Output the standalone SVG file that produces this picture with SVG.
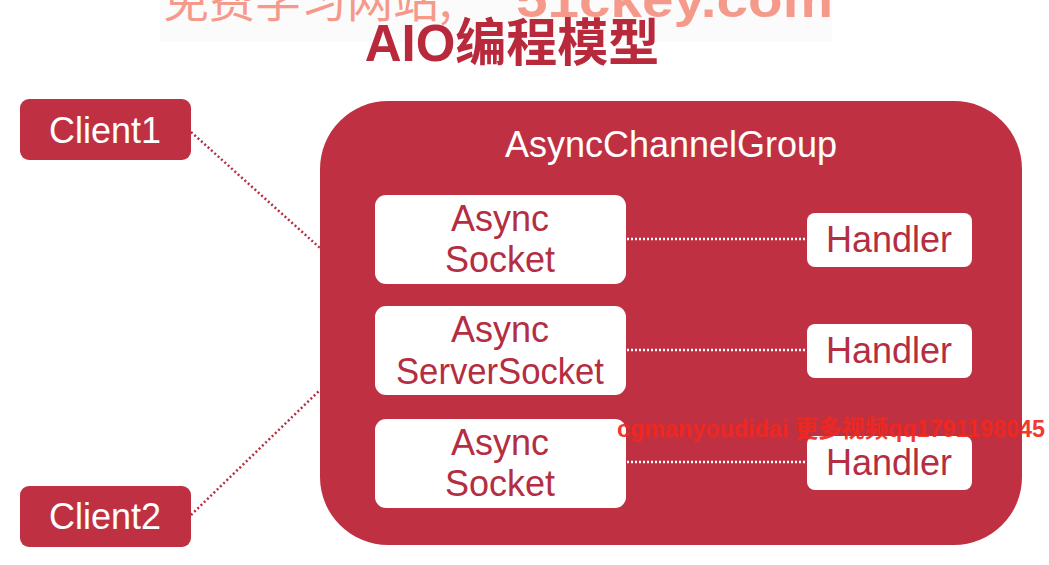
<svg xmlns="http://www.w3.org/2000/svg" width="1049" height="565" viewBox="0 0 1049 565">
<style>
.red{fill:#bf3142}
.wbox{fill:#ffffff}
.wt{fill:#ffffff;font-family:"Liberation Sans","Noto Sans CJK SC",sans-serif;font-size:36px;text-anchor:middle}
.rt{fill:#b52d40;font-family:"Liberation Sans","Noto Sans CJK SC",sans-serif;font-size:36px;text-anchor:middle}
.rdot{stroke:#b52d40;stroke-width:2.5;stroke-dasharray:2 2.5;fill:none}
.wdot{stroke:#ffffff;stroke-width:2.5;stroke-dasharray:2 2;fill:none}
</style>
<rect width="1049" height="565" fill="#ffffff"/>
<g id="watermark-top">
<rect x="160" y="0" width="672" height="42" fill="#f7f7f7" opacity="0.5"/>
<text x="163" y="17" font-family="'Noto Sans CJK SC',sans-serif" font-size="46" fill="#f58a78" opacity="0.85">免费学习网站,</text>
<text x="516" y="17" font-family="'Liberation Sans',sans-serif" font-weight="bold" font-size="50" fill="#f58a78" opacity="0.85" textLength="317" lengthAdjust="spacingAndGlyphs">51ckey.com</text>
</g>
<g id="title">
<text x="512" y="61" text-anchor="middle" font-family="'Liberation Sans','Noto Sans CJK SC',sans-serif" font-weight="bold" font-size="51" fill="#b8293c">AIO编程模型</text>
</g>
<g id="group">
<rect class="red" x="320" y="101" width="702" height="444" rx="68"/>
<text class="wt" x="671" y="157">AsyncChannelGroup</text>
</g>
<g id="connectors">
<line class="rdot" x1="191" y1="132" x2="320" y2="248"/>
<line class="rdot" x1="191" y1="515" x2="320" y2="390"/>
<line class="wdot" x1="627" y1="239" x2="807" y2="239"/>
<line class="wdot" x1="627" y1="350" x2="807" y2="350"/>
<line class="wdot" x1="627" y1="462" x2="807" y2="462"/>
</g>
<g id="client1">
<rect class="red" x="20" y="99" width="171" height="61" rx="9"/>
<text class="wt" x="105" y="143">Client1</text>
</g>
<g id="client2">
<rect class="red" x="20" y="486" width="171" height="61" rx="9"/>
<text class="wt" x="105" y="529">Client2</text>
</g>
<g id="socket1">
<rect class="wbox" x="375" y="195" width="251" height="89" rx="11"/>
<text class="rt" x="500" y="231">Async</text>
<text class="rt" x="500" y="272">Socket</text>
</g>
<g id="serversocket">
<rect class="wbox" x="375" y="306" width="251" height="89" rx="11"/>
<text class="rt" x="500" y="342">Async</text>
<text class="rt" x="500" y="384" textLength="208" lengthAdjust="spacingAndGlyphs">ServerSocket</text>
</g>
<g id="socket2">
<rect class="wbox" x="375" y="419" width="251" height="89" rx="11"/>
<text class="rt" x="500" y="455">Async</text>
<text class="rt" x="500" y="496">Socket</text>
</g>
<g id="handler1">
<rect class="wbox" x="807" y="213" width="165" height="54" rx="8"/>
<text class="rt" x="889" y="252">Handler</text>
</g>
<g id="handler2">
<rect class="wbox" x="807" y="324" width="165" height="54" rx="8"/>
<text class="rt" x="889" y="363">Handler</text>
</g>
<g id="handler3">
<rect class="wbox" x="807" y="436" width="165" height="54" rx="8"/>
<text class="rt" x="889" y="475">Handler</text>
</g>
<g id="watermark-mid">
<text x="617" y="437" font-family="'Liberation Sans','Noto Sans CJK SC',sans-serif" font-weight="bold" font-size="24" fill="#f2281c" opacity="0.92" textLength="428" lengthAdjust="spacingAndGlyphs">cgmanyoudidai 更多视频qq1791198045</text>
</g>
</svg>
